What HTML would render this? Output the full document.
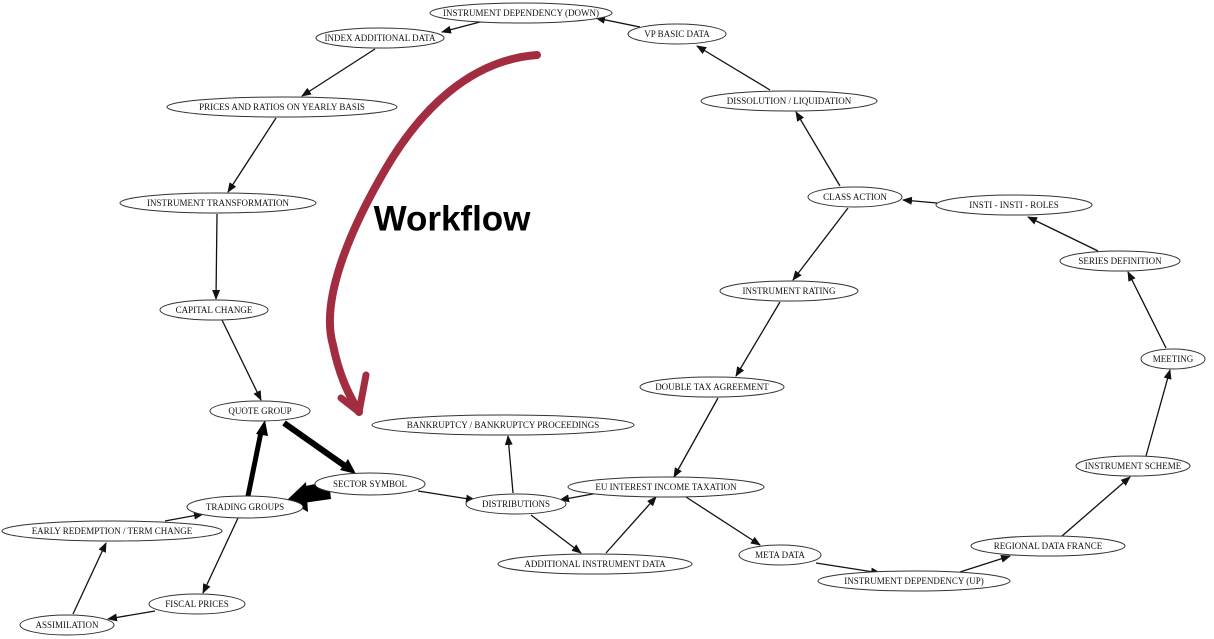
<!DOCTYPE html>
<html><head><meta charset="utf-8"><style>
html,body{margin:0;padding:0;background:#fff;}
svg{display:block}
text{font-family:"Liberation Serif",serif;font-size:9px;fill:#111;text-anchor:middle;dominant-baseline:central}
ellipse{fill:#fff;stroke:#333;stroke-width:1}
line.e{stroke:#111;stroke-width:1.3;marker-end:url(#a)}
</style></head><body>
<svg width="1214" height="639" viewBox="0 0 1214 639">
<defs><marker id="a" markerWidth="10" markerHeight="8" refX="9" refY="4" orient="auto" markerUnits="userSpaceOnUse"><path d="M0,0 L10,4 L0,8 z" fill="#111"/></marker></defs>
<g>
<line class="e" x1="640" y1="27" x2="596" y2="18"/>
<line class="e" x1="480" y1="22" x2="442" y2="32"/>
<line class="e" x1="375" y1="49" x2="302" y2="96"/>
<line class="e" x1="276" y1="118" x2="228" y2="192"/>
<line class="e" x1="217" y1="214" x2="216" y2="299"/>
<line class="e" x1="222" y1="320" x2="261" y2="400"/>
<line class="e" x1="770" y1="90" x2="697" y2="46"/>
<line class="e" x1="840" y1="186" x2="796" y2="112"/>
<line class="e" x1="937" y1="203" x2="903" y2="200"/>
<line class="e" x1="1098" y1="251" x2="1028" y2="217"/>
<line class="e" x1="1166" y1="348" x2="1128" y2="272"/>
<line class="e" x1="1146" y1="456" x2="1170" y2="370"/>
<line class="e" x1="1062" y1="536" x2="1130" y2="477"/>
<line class="e" x1="960" y1="572" x2="1010" y2="556"/>
<line class="e" x1="816" y1="563" x2="880" y2="573"/>
<line class="e" x1="686" y1="497" x2="760" y2="545"/>
<line class="e" x1="848" y1="208" x2="793" y2="280"/>
<line class="e" x1="780" y1="302" x2="736" y2="376"/>
<line class="e" x1="718" y1="398" x2="674" y2="477"/>
<line class="e" x1="598" y1="493" x2="560" y2="500"/>
<line class="e" x1="606" y1="553" x2="656" y2="497"/>
<line class="e" x1="531" y1="515" x2="581" y2="553"/>
<line class="e" x1="513" y1="493" x2="508" y2="436"/>
<line class="e" x1="418" y1="491" x2="475" y2="500"/>
<line class="e" x1="165" y1="521" x2="203" y2="514"/>
<line class="e" x1="238" y1="518" x2="203" y2="593"/>
<line class="e" x1="155" y1="611" x2="108" y2="619"/>
<line class="e" x1="73" y1="614" x2="106" y2="543"/>
<line x1="284" y1="423" x2="345" y2="466" stroke="#000" stroke-width="6"/>
<polygon points="356,474 340,470 348,459" fill="#000"/>
<line x1="248" y1="496" x2="261" y2="432" stroke="#000" stroke-width="5"/>
<polygon points="265,420 256,434 268,436" fill="#000"/>
<polygon points="329,481 331,499 303,503 301,487" fill="#000"/>
<polygon points="306,482 308,512 287,500" fill="#000"/>
</g>
<g>
<ellipse cx="521" cy="13" rx="91" ry="10"/><text x="521" y="13">INSTRUMENT DEPENDENCY (DOWN)</text>
<ellipse cx="677" cy="34" rx="49" ry="10"/><text x="677" y="34">VP BASIC DATA</text>
<ellipse cx="380" cy="38" rx="64" ry="10"/><text x="380" y="38">INDEX ADDITIONAL DATA</text>
<ellipse cx="282" cy="107" rx="115" ry="10"/><text x="282" y="107">PRICES AND RATIOS ON YEARLY BASIS</text>
<ellipse cx="789" cy="101" rx="88" ry="10"/><text x="789" y="101">DISSOLUTION / LIQUIDATION</text>
<ellipse cx="218" cy="203" rx="98" ry="10"/><text x="218" y="203">INSTRUMENT TRANSFORMATION</text>
<ellipse cx="855" cy="197" rx="47" ry="10"/><text x="855" y="197">CLASS ACTION</text>
<ellipse cx="1014" cy="205" rx="78" ry="10"/><text x="1014" y="205">INSTI - INSTI - ROLES</text>
<ellipse cx="1120" cy="261" rx="60" ry="10"/><text x="1120" y="261">SERIES DEFINITION</text>
<ellipse cx="789" cy="291" rx="69" ry="10"/><text x="789" y="291">INSTRUMENT RATING</text>
<ellipse cx="214" cy="310" rx="54" ry="10"/><text x="214" y="310">CAPITAL CHANGE</text>
<ellipse cx="1173" cy="359" rx="32" ry="10"/><text x="1173" y="359">MEETING</text>
<ellipse cx="712" cy="387" rx="72" ry="10"/><text x="712" y="387">DOUBLE TAX AGREEMENT</text>
<ellipse cx="260" cy="411" rx="50" ry="10"/><text x="260" y="411">QUOTE GROUP</text>
<ellipse cx="503" cy="425" rx="131" ry="10"/><text x="503" y="425">BANKRUPTCY / BANKRUPTCY PROCEEDINGS</text>
<ellipse cx="1133" cy="466" rx="57" ry="10"/><text x="1133" y="466">INSTRUMENT SCHEME</text>
<ellipse cx="370" cy="484" rx="55" ry="11"/><text x="370" y="484">SECTOR SYMBOL</text>
<ellipse cx="666" cy="487" rx="98" ry="10"/><text x="666" y="487">EU INTEREST INCOME TAXATION</text>
<ellipse cx="516" cy="504" rx="50" ry="10"/><text x="516" y="504">DISTRIBUTIONS</text>
<ellipse cx="245" cy="507" rx="58" ry="11"/><text x="245" y="507">TRADING GROUPS</text>
<ellipse cx="112" cy="531" rx="110" ry="10"/><text x="112" y="531">EARLY REDEMPTION / TERM CHANGE</text>
<ellipse cx="1048" cy="546" rx="77" ry="10"/><text x="1048" y="546">REGIONAL DATA FRANCE</text>
<ellipse cx="780" cy="555" rx="41" ry="10"/><text x="780" y="555">META DATA</text>
<ellipse cx="595" cy="564" rx="97" ry="10"/><text x="595" y="564">ADDITIONAL INSTRUMENT DATA</text>
<ellipse cx="914" cy="581" rx="96" ry="10"/><text x="914" y="581">INSTRUMENT DEPENDENCY (UP)</text>
<ellipse cx="197" cy="604" rx="48" ry="10"/><text x="197" y="604">FISCAL PRICES</text>
<ellipse cx="67" cy="625" rx="47" ry="10"/><text x="67" y="625">ASSIMILATION</text>
</g>
<g fill="none" stroke="#9b1b30" stroke-linecap="round" stroke-linejoin="round" opacity="0.92">
<path d="M537,55 C470,60 420,110 385,170 C350,230 320,300 333,345 C340,380 352,400 359,412" stroke-width="8"/>
<path d="M359,412 L341,398" stroke-width="7"/>
<path d="M359,412 L366,375" stroke-width="7"/>
</g>
<text x="452" y="219" style="font-family:'Liberation Sans',sans-serif;font-size:35px;font-weight:bold;fill:#000">Workflow</text>
</svg>
</body></html>
